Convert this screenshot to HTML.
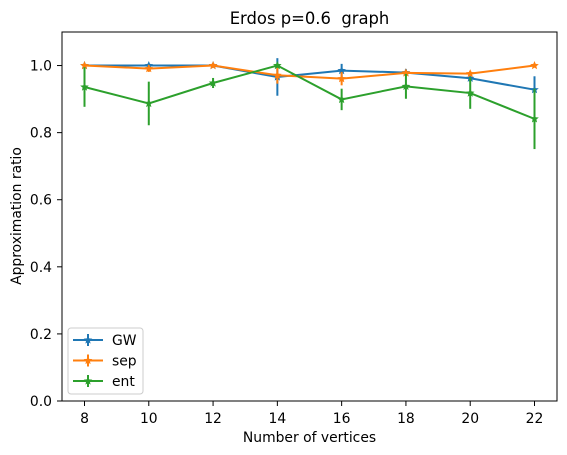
<!DOCTYPE html>
<html><head><meta charset="utf-8"><style>
body{margin:0;background:#fff}
svg{display:block;font-family:"DejaVu Sans","Liberation Sans",sans-serif}
</style></head><body>
<svg id="chart" width="567" height="455" xmlns="http://www.w3.org/2000/svg">
<rect width="567" height="455" fill="#fff"/>
<g id="plot"></g>
<g id="axes"></g>
<text x="309.5" y="24" text-anchor="middle" font-size="16.4">Erdos p=0.6&#160; graph</text>
<text x="309.5" y="442" text-anchor="middle" font-size="13.9">Number of vertices</text>
<text transform="translate(21,216) rotate(-90)" text-anchor="middle" font-size="13.9">Approximation ratio</text>
<g id="legend">
<rect x="68" y="328" width="75" height="66" rx="3" fill="#fff" fill-opacity="0.8" stroke="#ccc"/>
</g>
</svg>
<script>
const xs=[8,10,12,14,16,18,20,22];
const gwVals=[1.0,1.0,1.0,0.966,0.985,0.979,0.962,0.928];
const gwErr=[0.002,0.004,0.002,0.056,0.02,0.01,0.01,0.04];
const sepVals=[1.0,0.991,1.0,0.971,0.961,0.978,0.976,1.0];
const sepErr=[0.002,0.01,0.004,0.025,0.02,0.008,0.008,0.002];
const entVals=[0.936,0.887,0.948,1.0,0.899,0.938,0.918,0.841];
const entErr=[0.059,0.065,0.015,0.0,0.032,0.037,0.047,0.09];
const xTicks=[8,10,12,14,16,18,20,22];
const yTicks=[0,0.2,0.4,0.6,0.8,1.0];
const L=62,R=557,T=32,B=401;
const xmin=7.3,xmax=22.7,ymin=0,ymax=1.1;
const X=v=>L+(v-xmin)/(xmax-xmin)*(R-L);
const Y=v=>B-(v-ymin)/(ymax-ymin)*(B-T);
const NS="http://www.w3.org/2000/svg";
function mk(tag,attrs,parent){const e=document.createElementNS(NS,tag);for(const k in attrs)e.setAttribute(k,attrs[k]);parent.appendChild(e);return e;}
const plot=document.getElementById('plot'),axes=document.getElementById('axes');
function star(cx,cy,r){let p=[];for(let i=0;i<10;i++){const a=-Math.PI/2+i*Math.PI/5;const rr=i%2?r*0.45:r;p.push((cx+rr*Math.cos(a)).toFixed(1)+','+(cy+rr*Math.sin(a)).toFixed(1));}return p.join(' ');}
const series=[["gw",gwVals,gwErr,"#1f77b4"],["sep",sepVals,sepErr,"#ff7f0e"],["ent",entVals,entErr,"#2ca02c"]];
series.forEach(([name,vals,errs,col])=>{
  const g=mk('g',{},plot);
  
  
  mk('polyline',{points:xs.map((x,i)=>X(x)+','+Y(vals[i])).join(' '),fill:'none',stroke:col,'stroke-width':2},g);
  xs.forEach((x,i)=>{
    const eb=mk('line',{x1:X(x),x2:X(x),y1:Y(vals[i]-errs[i]),y2:Y(vals[i]+errs[i]),stroke:col,'stroke-width':2},g);
    
    
    const m=mk('polygon',{points:star(X(x),Y(vals[i]),4.5),fill:col},g);
    
    
  });
});
mk('rect',{x:L,y:T,width:R-L,height:B-T,fill:'none',stroke:'#000','stroke-width':1},axes);
xTicks.forEach(t=>{
  mk('line',{x1:X(t),x2:X(t),y1:B,y2:B+5,stroke:'#000'},axes);
  const tx=mk('text',{x:X(t),y:B+22,'text-anchor':'middle','font-size':13.9},axes);
  tx.textContent=t;
  
  
});
yTicks.forEach(t=>{
  mk('line',{x1:L-5,x2:L,y1:Y(t),y2:Y(t),stroke:'#000'},axes);
  const tx=mk('text',{x:L-10,y:Y(t)+5,'text-anchor':'end','font-size':13.9},axes);
  tx.textContent=t.toFixed(1);
  
  
});
const lg=document.getElementById('legend');
[["GW","#1f77b4"],["sep","#ff7f0e"],["ent","#2ca02c"]].forEach(([lab,col],i)=>{
  const y=340+i*20.5;
  const g=mk('g',{},lg);
  
  
  mk('line',{x1:73,x2:103,y1:y,y2:y,stroke:col,'stroke-width':2},g);
  mk('line',{x1:88,x2:88,y1:y-6,y2:y+6,stroke:col,'stroke-width':2},g);
  mk('polygon',{points:star(88,y,4.5),fill:col},g);
  const t=mk('text',{x:112,y:y+5,'font-size':13.9},g);
  t.textContent=lab;
});
</script>
</body></html>
